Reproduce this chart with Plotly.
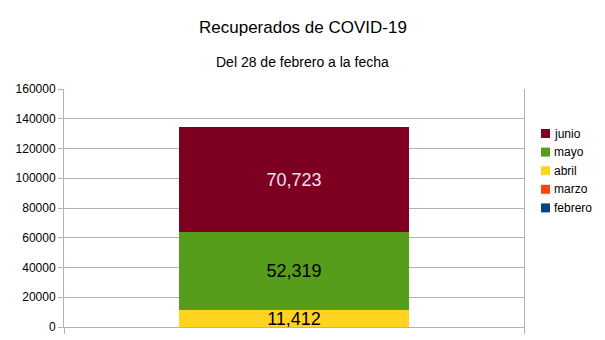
import plotly.graph_objects as go

categories = ["Recuperados"]
months = ["febrero", "marzo", "abril", "mayo", "junio"]
values = [0, 0, 11412, 52319, 70723]
colors = ["#004586", "#FF420E", "#FFD320", "#579D1C", "#7E0021"]
text_colors = ["#000000", "#000000", "#000000", "#000000", "#F0E0F0"]
y_ticks = [0, 20000, 40000, 60000, 80000, 100000, 120000, 140000, 160000]

fig = go.Figure()
for m, v, c, tc in zip(months, values, colors, text_colors):
    fig.add_trace(go.Bar(
        x=categories, y=[v], name=m, marker=dict(color=c, line=dict(width=0)),
        text=[f"{v:,}" if v > 0 else ""], textposition="inside",
        insidetextanchor="middle", textangle=0, constraintext="none",
        textfont=dict(size=18, color=tc, family="Liberation Sans"),
        width=0.5, showlegend=False,
    ))

L, R, T, B = 64, 81, 89, 13
W, H = 605, 340
plot_w = W - L - R
plot_h = H - T - B

def px_x(x):
    return (x - L) / plot_w

def px_y(y):
    return (H - B - y) / plot_h

annotations = [
    dict(text="Recuperados de COVID-19", x=px_x(302.5), y=px_y(27),
         xref="paper", yref="paper", yanchor="middle",
         showarrow=False, font=dict(size=17)),
    dict(text="Del 28 de febrero a la fecha", x=px_x(302.5), y=px_y(62),
         xref="paper", yref="paper", yanchor="middle",
         showarrow=False, font=dict(size=14)),
]
shapes = []
# custom legend, top item = last month
for i, (m, c) in enumerate(zip(reversed(months), reversed(colors))):
    cy = 133.5 + i * 18.6
    shapes.append(dict(type="rect", xref="paper", yref="paper",
                       x0=px_x(541), x1=px_x(550), y0=px_y(cy - 4.5), y1=px_y(cy + 4.5),
                       fillcolor=c, line=dict(width=0)))
    annotations.append(dict(text=m, x=px_x(552), y=px_y(cy), xref="paper", yref="paper",
                            xanchor="left", yanchor="middle", showarrow=False,
                            font=dict(size=12)))

fig.update_layout(
    barmode="stack",
    width=W, height=H,
    margin=dict(l=L, r=R, t=T, b=B, autoexpand=False),
    paper_bgcolor="white", plot_bgcolor="white",
    font=dict(family="Liberation Sans", color="#000000"),
    showlegend=False,
    annotations=annotations,
    shapes=shapes,
)

fig.update_yaxes(range=[0, 160000], tickvals=y_ticks, ticktext=[str(t) for t in y_ticks],
                 showgrid=True, gridcolor="#b3b3b3", gridwidth=1,
                 ticks="outside", ticklen=5, tickcolor="#b3b3b3",
                 showline=True, mirror=True, linecolor="#b3b3b3", linewidth=1,
                 zeroline=False, tickfont=dict(size=12))
fig.update_xaxes(range=[-0.5, 0.5], showticklabels=False, tickson="boundaries",
                 showgrid=False, ticks="outside", ticklen=6,
                 tickcolor="#b3b3b3", showline=True, linecolor="#b3b3b3", linewidth=1,
                 zeroline=False)

fig.write_html("out.html")
